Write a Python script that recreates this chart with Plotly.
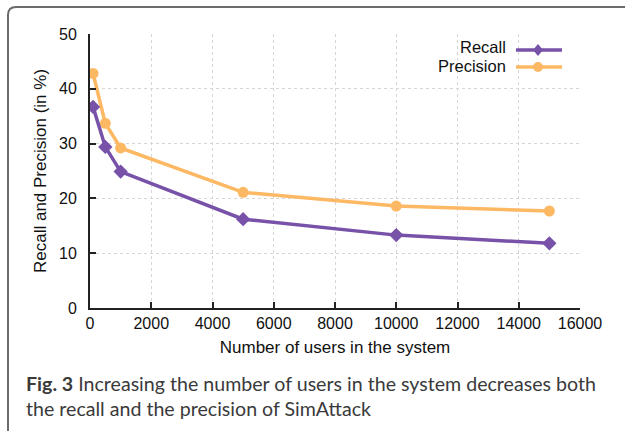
import plotly.graph_objects as go

users = [100, 500, 1000, 5000, 10000, 15000]
recall = [36.7, 29.4, 24.9, 16.2, 13.3, 11.8]
precision = [42.8, 33.7, 29.2, 21.1, 18.6, 17.7]
x_ticks = [0, 2000, 4000, 6000, 8000, 10000, 12000, 14000, 16000]
y_ticks = [0, 10, 20, 30, 40, 50]

PURPLE = "#7752A8"
ORANGE = "#FDB863"
FONT = "Liberation Sans, Arial, sans-serif"

fig = go.Figure()
fig.add_trace(go.Scatter(x=users, y=precision, mode="lines+markers", name="Precision",
                         line=dict(color=ORANGE, width=3.5),
                         marker=dict(symbol="circle", size=11, color=ORANGE)))
fig.add_trace(go.Scatter(x=users, y=recall, mode="lines+markers", name="Recall",
                         line=dict(color=PURPLE, width=3.5),
                         marker=dict(symbol="diamond", size=11, color=PURPLE)))

L, R, T, B = 90, 45, 34, 123
W, H = 625, 431
pw, ph = W - L - R, H - T - B

def px(xp):
    return (xp - L) / pw

def py(yp):
    return (H - B - yp) / ph

shapes = []
# outer frame (top and left, rounded corner)
x0, y0 = px(8), py(7)
rx, ry = 8 / pw, 8 / ph
shapes.append(dict(type="path", xref="paper", yref="paper",
                   path=f"M {x0},{py(431)} L {x0},{y0 - ry} Q {x0},{y0} {x0 + rx},{y0} L {px(625)},{y0}",
                   line=dict(color="#6b6b6b", width=2)))

# legend samples
annotations = []
for label, color, sym, ycen, ytxt in [("Recall", PURPLE, "diamond", 50, 46.5),
                                      ("Precision", ORANGE, "circle", 67, 65.8)]:
    shapes.append(dict(type="line", xref="paper", yref="paper",
                       x0=px(516), x1=px(562), y0=py(ycen), y1=py(ycen),
                       line=dict(color=color, width=3.5)))
    if sym == "circle":
        shapes.append(dict(type="circle", xref="paper", yref="paper",
                           x0=px(533), x1=px(543), y0=py(ycen - 5), y1=py(ycen + 5),
                           fillcolor=color, line=dict(color=color, width=0)))
    else:
        cx, cy = 538, ycen
        pts = [(cx, cy - 6), (cx + 5, cy), (cx, cy + 6), (cx - 5, cy)]
        path = "M " + " L ".join(f"{px(a)},{py(b)}" for a, b in pts) + " Z"
        shapes.append(dict(type="path", xref="paper", yref="paper", path=path,
                           fillcolor=color, line=dict(color=color, width=0)))
    annotations.append(dict(text=label, xref="paper", yref="paper", x=px(507), y=py(ytxt),
                            xanchor="right", yanchor="middle", showarrow=False,
                            borderpad=0,
                            font=dict(family=FONT, size=16.5, color="#111")))

annotations.append(dict(
    text="<b>Fig. 3</b> Increasing the number of users in the system decreases both<br>the recall and the precision of SimAttack",
    xref="paper", yref="paper", x=px(24), y=py(370), xanchor="left", yanchor="top",
    align="left", showarrow=False,
    font=dict(family="Lato, Open Sans, sans-serif", size=19.6, color="#3a3a3a")))

fig.update_layout(
    width=W, height=H, margin=dict(l=L, r=R, t=T, b=B),
    paper_bgcolor="white", plot_bgcolor="white", showlegend=False,
    font=dict(family=FONT, size=16, color="#111"),
    shapes=shapes, annotations=annotations,
    xaxis=dict(range=[0, 16000], tickvals=x_ticks, ticktext=[str(v) for v in x_ticks],
               showline=True, linecolor="#222", linewidth=2, ticks="inside", ticklen=6,
               tickcolor="#222", tickwidth=1.5,
               showgrid=True, gridcolor="#d6d6d6", griddash="dot", gridwidth=1,
               zeroline=False,
               title=dict(text="Number of users in the system", font=dict(size=17), standoff=10),
               tickfont=dict(size=16)),
    yaxis=dict(range=[0, 50], tickvals=y_ticks, ticktext=[str(v) for v in y_ticks],
               showline=True, linecolor="#222", linewidth=2, ticks="inside", ticklen=6,
               tickcolor="#222", tickwidth=1.5, ticklabelstandoff=8,
               showgrid=True, gridcolor="#d6d6d6", griddash="dot", gridwidth=1,
               zeroline=False,
               title=dict(text="Recall and Precision (in %)", font=dict(size=17), standoff=8),
               tickfont=dict(size=16)),
)

fig.write_html("out.html", config={"displayModeBar": False},
               post_script="document.body.style.margin='0';")
